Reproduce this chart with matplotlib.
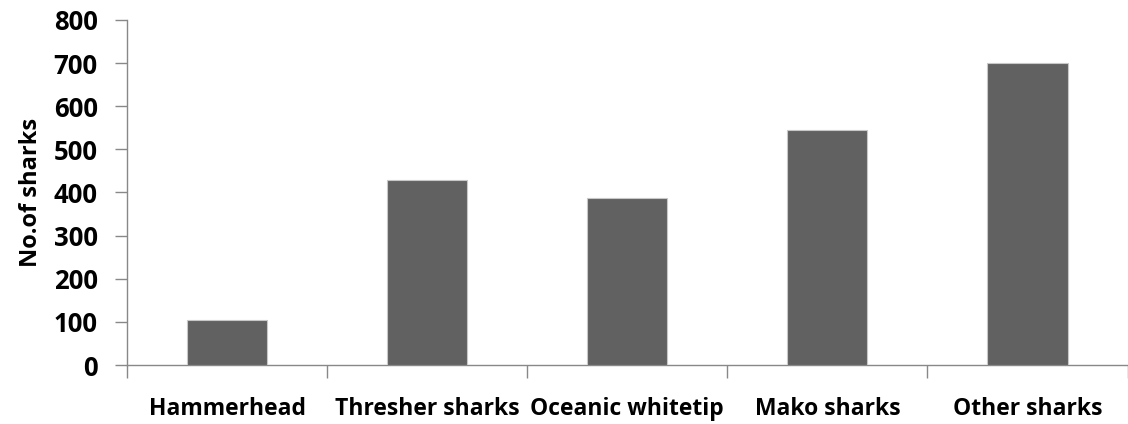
import matplotlib
matplotlib.use("Agg")
import matplotlib.pyplot as plt
import numpy as np

# shark counts by group
categories = ["Hammerhead", "Thresher sharks", "Oceanic whitetip", "Mako sharks", "Other sharks"]
counts = [104, 428, 388, 545, 700]
yticks = [0, 100, 200, 300, 400, 500, 600, 700, 800]

plt.rcParams['font.family'] = ['Open Sans', 'DejaVu Sans']

fig = plt.figure(figsize=(11.28, 4.24), dpi=100)
ax = fig.add_axes([0.1126, 0.139, 0.887, 0.814])

x = np.arange(len(categories))
ax.bar(x, counts, width=0.4, color='#616161', edgecolor='#c8c8c8', linewidth=0.8, zorder=3)

ax.set_xlim(-0.5, len(categories) - 0.5)
ax.set_ylim(0, 800)
ax.set_yticks(yticks)
ax.set_yticklabels([str(v) for v in yticks], fontsize=18.5, fontweight='bold')

# ticks sit on the category boundaries, labels at the centres
ax.set_xticks(np.arange(len(categories) + 1) - 0.5)
ax.set_xticklabels([])
ax.set_xticks(x, minor=True)
ax.set_xticklabels(categories, minor=True, fontsize=16.5, fontweight='bold')
ax.tick_params(axis='x', which='minor', length=0, pad=23)
ax.tick_params(axis='x', which='major', length=9, color='#888888', width=1)
ax.tick_params(axis='y', length=9, color='#888888', width=1, pad=12)

for side in ['top', 'right']:
    ax.spines[side].set_visible(False)
for side in ['left', 'bottom']:
    ax.spines[side].set_color('#888888')
    ax.spines[side].set_linewidth(1)

ax.set_ylabel("No.of sharks", fontsize=17, fontweight='bold', labelpad=8)

fig.savefig("out.png", dpi=100)
